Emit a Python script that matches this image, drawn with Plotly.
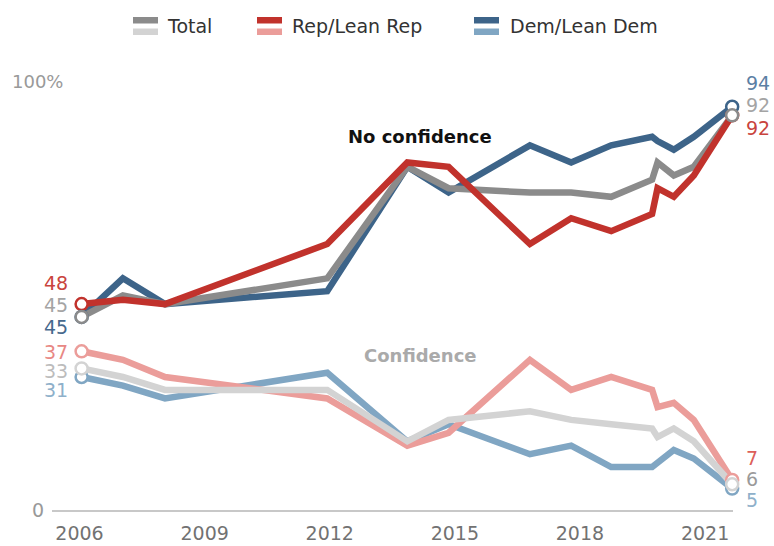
import plotly.graph_objects as go

# ---- data ----
dates = [2006.05, 2007.04, 2008.05, 2011.94, 2013.86, 2014.85, 2016.80,
         2017.79, 2018.75, 2019.73, 2019.86, 2020.25, 2020.73, 2021.65]

total_no = [45, 50, 48, 54, 80, 75, 74, 74, 73, 77, 81, 78, 80, 92]
rep_no   = [48, 49, 48, 62, 81, 80, 62, 68, 65, 69, 75, 73, 78, 92]
dem_no   = [45, 54, 48, 51, 80, 74, 85, 81, 85, 87, 86, 84, 87, 94]

total_conf = [33, 31, 28, 28, 16, 21, 23, 21, 20, 19, 17, 19, 16, 6]
rep_conf   = [37, 35, 31, 26, 15, 18, 35, 28, 31, 28, 24, 25, 21, 7]
dem_conf   = [31, 29, 26, 32, 16, 20, 13, 15, 10, 10, 11, 14, 12, 5]

tick_years = [2006, 2009, 2012, 2015, 2018, 2021]
tick_labels = [str(y) for y in tick_years]

legend_names = ["Total", "Rep/Lean Rep", "Dem/Lean Dem"]

# ---- styles ----
C_TOTAL_D, C_TOTAL_L = "#8b8b8b", "#d3d3d3"
C_REP_D, C_REP_L = "#c1322c", "#eb9d9a"
C_DEM_D, C_DEM_L = "#3d6489", "#80a6c3"
FONT = "DejaVu Sans, Liberation Sans, sans-serif"
LW = 6.5

W, H = 774, 546
L, R, T, B = 52, 41, 81, 36
PW, PH = W - L - R, H - T - B


def px(xp):
    return (xp - L) / PW


def py(yp):
    return (H - B - yp) / PH


fig = go.Figure()

series = [
    (dem_conf, C_DEM_L), (rep_conf, C_REP_L), (total_conf, C_TOTAL_L),
    (dem_no, C_DEM_D), (total_no, C_TOTAL_D), (rep_no, C_REP_D),
]
for vals, col in series:
    fig.add_trace(go.Scatter(x=dates, y=vals, mode="lines",
                             line=dict(color=col, width=LW),
                             hoverinfo="skip", showlegend=False, cliponaxis=False))

# end-point open circles
for vals, col in [(rep_conf, C_REP_L), (dem_conf, C_DEM_L), (total_conf, C_TOTAL_L),
                  (rep_no, C_REP_D), (dem_no, C_DEM_D), (total_no, C_TOTAL_D)]:
    fig.add_trace(go.Scatter(x=[dates[0], dates[-1]], y=[vals[0], vals[-1]], mode="markers",
                             marker=dict(size=12, color="white", line=dict(color=col, width=2.5)),
                             hoverinfo="skip", showlegend=False, cliponaxis=False))

ann = []
# left value labels
left = [(rep_no[0], "#c9443d", -21), (total_no[0], "#a4a4a4", -12), (dem_no[0], "#46698d", 10),
        (rep_conf[0], "#e88884", 1), (total_conf[0], "#bcbcbc", 3), (dem_conf[0], "#8eb0ca", 13)]
for v, col, dy in left:
    ann.append(dict(x=dates[0], y=v, text=str(v), xanchor="right", yanchor="middle",
                    xshift=-12, yshift=-dy, showarrow=False,
                    font=dict(family=FONT, size=19, color=col)))
# right value labels
right = [(dem_no[-1], "#5b80a4", -24), (total_no[-1], "#a4a4a4", -10), (rep_no[-1], "#c9443d", 13),
         (rep_conf[-1], "#dd5f5a", -22), (total_conf[-1], "#9a9a9a", -5), (dem_conf[-1], "#8eb0ca", 11)]
for v, col, dy in right:
    ann.append(dict(x=dates[-1], y=v, text=str(v), xanchor="left", yanchor="middle",
                    xshift=12, yshift=-dy, showarrow=False,
                    font=dict(family=FONT, size=19, color=col)))

# series group labels
ann.append(dict(x=2014.17, y=87, text="<b>No confidence</b>", showarrow=False,
                xanchor="center", yanchor="middle", font=dict(family=FONT, size=18, color="#111")))
ann.append(dict(x=2014.17, y=36, text="<b>Confidence</b>", showarrow=False,
                xanchor="center", yanchor="middle", font=dict(family=FONT, size=18, color="#aaaaaa")))

# y axis labels
ann.append(dict(xref="paper", yref="y", x=0, y=100, text="100%", xanchor="left", yanchor="middle",
                xshift=-42, showarrow=False, font=dict(family=FONT, size=18, color="#999")))
ann.append(dict(xref="paper", yref="y", x=0, y=0, text="0", xanchor="right", yanchor="middle",
                xshift=-6, showarrow=False, font=dict(family=FONT, size=19, color="#999")))

# legend (stacked swatches)
shapes = []
legend_items = [
    (legend_names[0], C_TOTAL_D, C_TOTAL_L, 133, 165),
    (legend_names[1], C_REP_D, C_REP_L, 257, 290),
    (legend_names[2], C_DEM_D, C_DEM_L, 474, 508),
]
for name, cd, cl, sx, tx in legend_items:
    for (y0, y1, c) in [(17, 23.5, cd), (28.5, 35, cl)]:
        shapes.append(dict(type="rect", xref="paper", yref="paper",
                           x0=px(sx), x1=px(sx + 25), y0=py(y1), y1=py(y0),
                           fillcolor=c, line=dict(width=0), layer="above"))
    ann.append(dict(xref="paper", yref="paper", x=px(tx), y=py(26), text=name,
                    xanchor="left", yanchor="middle", showarrow=False,
                    font=dict(family=FONT, size=19, color="#333")))

fig.update_layout(
    width=W, height=H,
    margin=dict(l=L, r=R, t=T, b=B, pad=0),
    paper_bgcolor="white", plot_bgcolor="white",
    annotations=ann, shapes=shapes, showlegend=False,
    xaxis=dict(range=[2005.34, 2021.67], tickvals=tick_years, ticktext=tick_labels,
               showgrid=False, zeroline=False, showline=True, linecolor="#c8c8c8",
               linewidth=1.5, ticks="", ticklabelstandoff=5, automargin=False,
               tickfont=dict(family=FONT, size=19, color="#727272")),
    yaxis=dict(range=[0, 100], showgrid=False, zeroline=False, showticklabels=False,
               showline=False, automargin=False),
)

fig.write_html("out.html", config={"displayModeBar": False},
               post_script="document.body.style.margin='0';document.body.style.overflow='hidden';")
